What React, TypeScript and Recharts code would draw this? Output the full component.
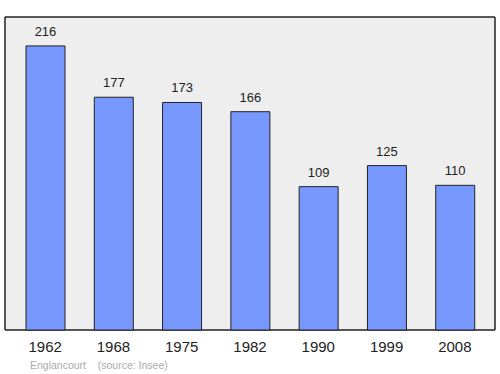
import { Bar, BarChart, CartesianGrid, LabelList, XAxis, YAxis } from "recharts";

const years = ["1962", "1968", "1975", "1982", "1990", "1999", "2008"];
const population = [216, 177, 173, 166, 109, 125, 110];

const data = years.map((year, i) => ({ year, population: population[i] }));

const FONT = "'Liberation Sans', Arial, sans-serif";

export default function App() {
  return (
    <div style={{ position: "absolute", left: 0, top: 0, width: 500, height: 374, background: "#fff" }}>
      <BarChart width={500} height={374} data={data} margin={{ top: 17, right: 5, bottom: 14, left: 5 }}>
        <CartesianGrid
          fill="#eeeeee"
          stroke="#222"
          strokeWidth={1.5}
          horizontalCoordinatesGenerator={({ offset }: any) => [offset.top, offset.top + offset.height]}
          verticalCoordinatesGenerator={({ offset }: any) => [offset.left, offset.left + offset.width]}
        />
        <XAxis
          dataKey="year"
          height={30}
          axisLine={false}
          tickLine={false}
          tickSize={0}
          tickMargin={11}
          padding={{ left: 6, right: 6 }}
          tick={{ fill: "#222", fontSize: 15, fontFamily: FONT }}
          interval={0}
        />
        <YAxis hide domain={[0, 238]} />
        <Bar dataKey="population" fill="#7799ff" stroke="#222" strokeWidth={1} barSize={39} isAnimationActive={false}>
          <LabelList dataKey="population" position="top" offset={10} fill="#222" fontSize={13} fontFamily={FONT} />
        </Bar>
      </BarChart>
      <div
        style={{
          position: "absolute",
          left: 30,
          top: 359,
          fontFamily: FONT,
          fontSize: 10.5,
          color: "#aaa",
          whiteSpace: "pre",
        }}
      >
        {"Englancourt    (source: Insee)"}
      </div>
    </div>
  );
}
